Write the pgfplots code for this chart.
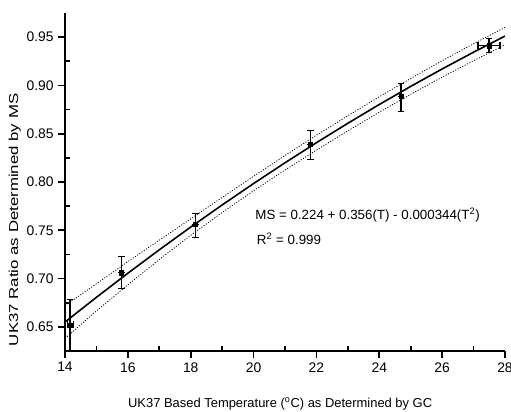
\documentclass[border=0pt]{standalone}
\usepackage{fontspec}
\setmainfont{Liberation Sans}
\newfontfamily\widefont[FakeStretch=1.3]{Liberation Sans}
\usepackage{pgfplots}
\pgfplotsset{compat=1.18}

\begin{document}
\begin{tikzpicture}
\begin{axis}[
    scale only axis,
    width=330pt, height=253.5pt,
    xmin=14, xmax=28, ymin=0.625, ymax=0.975,
    axis x line*=bottom, axis y line*=left,
    axis line style={line width=1.1pt},
    xtick={14,16,...,28},
    ytick={0.65,0.70,...,0.951},
    tick align=outside,
    major tick length=5pt,
    tick style={black, line width=1.3pt},
    /pgf/number format/assume math mode=true,
    yticklabel style={/pgf/number format/fixed, /pgf/number format/fixed zerofill, /pgf/number format/precision=2},
    ticklabel style={font=\fontsize{10.4}{12}\selectfont},
    xlabel={UK37 Based Temperature (\textsuperscript{o}C) as Determined by GC},
    ylabel={\widefont UK37 Ratio as Determined by MS},
    xlabel style={font=\fontsize{9.7}{11}\selectfont, at={(axis description cs:0.489,-0.166)}, anchor=base},
    ylabel style={font=\fontsize{9.7}{11}\selectfont, at={(axis description cs:-0.114,0.388)}, anchor=center},
]
% fitted curve
\addplot[black, line width=1.2pt] coordinates {
(14,0.65498) (15,0.6806) (16,0.705536) (17,0.729784) (18,0.753344)
(19,0.776216) (20,0.7984) (21,0.819896) (22,0.840704) (23,0.860824)
(24,0.880256) (25,0.899) (26,0.917056) (27,0.934424) (28,0.951104)};
% confidence bands
\addplot[black, line width=0.6pt, dash pattern=on 0.8pt off 1.2pt] coordinates {
(14,0.6720) (15,0.6946) (16,0.7175) (17,0.7398) (18,0.7618) (19,0.7840)
(20,0.8059) (21,0.8274) (22,0.8484) (23,0.8686) (24,0.8883) (25,0.9072)
(26,0.9256) (27,0.9432) (28,0.9601)};
\addplot[black, line width=0.6pt, dash pattern=on 0.8pt off 1.2pt] coordinates {
(14,0.6380) (15,0.6666) (16,0.6935) (17,0.7198) (18,0.7448) (19,0.7684)
(20,0.7909) (21,0.8124) (22,0.8330) (23,0.8530) (24,0.8723) (25,0.8908)
(26,0.9086) (27,0.9256) (28,0.9421)};
% measured points
\addplot[black, only marks, mark=square*, mark size=1.6pt,
    error bars/.cd, x dir=both, x explicit, y dir=both, y explicit,
    error mark options={black, line width=0.8pt, mark size=2.6pt, rotate=90},
    error bar style={line width=0.9pt}]
coordinates {
(14.16,0.652) += (0.10,0.026) -= (0.07,0.04)
(15.80,0.706) += (0,0.0166) -= (0,0.016)
(18.14,0.756) += (0,0.011) -= (0,0.013)
(21.80,0.839) += (0,0.0146) -= (0,0.016)
(24.69,0.889) += (0,0.013) -= (0,0.016)
(27.49,0.941) += (0.35,0.008) -= (0.35,0.007)
};
\node[anchor=base west, font=\fontsize{10}{12}\selectfont, inner sep=0pt] at (axis cs:20.05,0.761) {MS = 0.224 + 0.356(T) - 0.000344(T\textsuperscript{2})};
\node[anchor=base west, font=\fontsize{10}{12}\selectfont, inner sep=0pt] at (axis cs:20.1,0.735) {R\textsuperscript{2} = 0.999};
\coordinate (O) at (rel axis cs:0,0);
\end{axis}
% inward minor ticks
\foreach \i in {1,3,...,13} \draw[line width=1.2pt] (O) ++(\i*23.5714pt,0) -- ++(0,4pt);
\foreach \j in {2,4,...,12} \draw[line width=1.2pt] (O) ++(0,\j*18.1071pt) -- ++(4pt,0);
\pgfresetboundingbox
\path (O) ++(-48.75pt,-45pt) rectangle ++(383.25pt,308.25pt);
\end{tikzpicture}
\end{document}
